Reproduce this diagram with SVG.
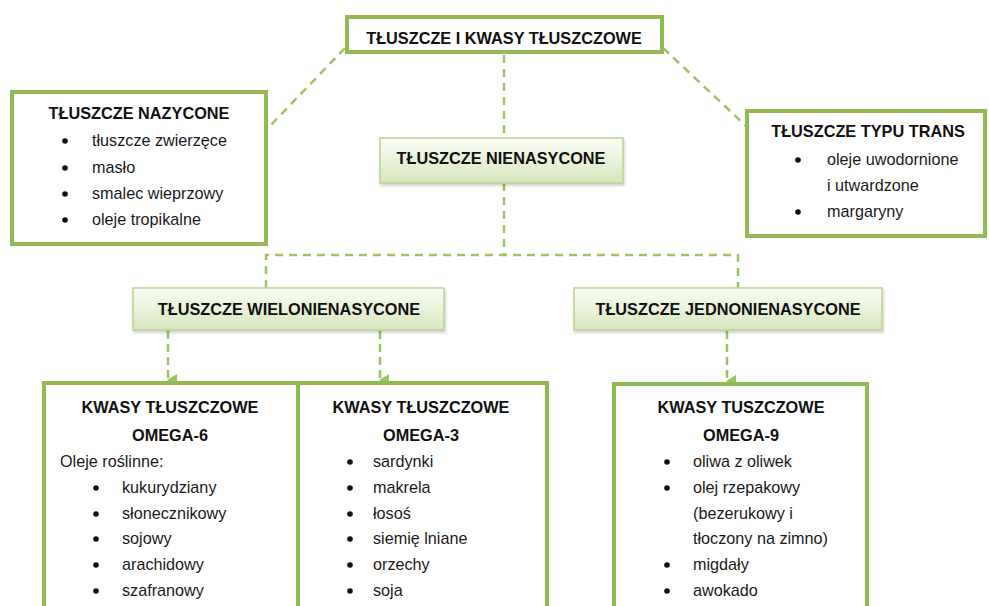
<svg xmlns="http://www.w3.org/2000/svg" width="989" height="606" viewBox="0 0 989 606">
<style>
.box{fill:#fff;stroke:#8fbb52;stroke-width:4}
.sub{fill:url(#g);stroke:#b9d48f;stroke-width:1.5}
.t{font-family:"Liberation Sans",Arial,sans-serif;font-weight:bold;font-size:16.3px;fill:#111;text-anchor:middle}
.b{font-family:"Liberation Sans",Arial,sans-serif;font-size:16.2px;fill:#1a1a1a}
.dot{fill:#111}
.c{fill:none;stroke:#9cc45f;stroke-width:2.5;stroke-dasharray:8,6}
</style>
<defs>
<linearGradient id="g" x1="0" y1="0" x2="0" y2="1">
<stop offset="0" stop-color="#fbfdf6"/>
<stop offset="1" stop-color="#d6e7bd"/>
</linearGradient>
<filter id="sh" x="-5%" y="-20%" width="110%" height="150%">
<feDropShadow dx="1" dy="2" stdDeviation="1.5" flood-color="#000" flood-opacity="0.2"/>
</filter>
<marker id="ar" markerWidth="12" markerHeight="10" refX="6" refY="9" orient="auto" markerUnits="userSpaceOnUse" viewBox="0 0 12 10">
<path d="M0,0 L12,0 L6,10 Z" fill="#9cc45f"/>
</marker>
</defs>
<g id="connectors">
<line class="c" x1="345" y1="48" x2="268" y2="128"/>
<line class="c" x1="663" y1="48" x2="746" y2="126"/>
<line class="c" x1="504" y1="55" x2="504" y2="138"/>
<polyline class="c" points="504,183 504,255"/>
<polyline class="c" points="266,288 266,255 738,255 738,288"/>
<line class="c" x1="168" y1="331" x2="168" y2="380" marker-end="url(#ar)" style="stroke-dasharray:8,5"/>
<line class="c" x1="380" y1="331" x2="380" y2="380" marker-end="url(#ar)" style="stroke-dasharray:8,5"/>
<line class="c" x1="727" y1="331" x2="727" y2="381" marker-end="url(#ar)" style="stroke-dasharray:8,5"/>
</g>
<g id="top">
<rect class="box" x="347" y="17" width="315" height="35"/>
<text class="t" x="504" y="44">TŁUSZCZE I KWASY TŁUSZCZOWE</text>
</g>
<g id="nasycone">
<rect class="box" x="12" y="92" width="254" height="152"/>
<text class="t" x="139" y="119">TŁUSZCZE NAZYCONE</text>
<circle class="dot" cx="65" cy="141" r="2.8"/><text class="b" x="92" y="146">tłuszcze zwierzęce</text>
<circle class="dot" cx="65" cy="168" r="2.8"/><text class="b" x="92" y="173">masło</text>
<circle class="dot" cx="65" cy="194" r="2.8"/><text class="b" x="92" y="199">smalec wieprzowy</text>
<circle class="dot" cx="65" cy="220" r="2.8"/><text class="b" x="92" y="225">oleje tropikalne</text>
</g>
<g id="trans">
<rect class="box" x="747" y="111" width="238" height="125"/>
<text class="t" x="868" y="137">TŁUSZCZE TYPU TRANS</text>
<circle class="dot" cx="798" cy="160" r="2.8"/><text class="b" x="827" y="165">oleje uwodornione</text>
<text class="b" x="827" y="191">i utwardzone</text>
<circle class="dot" cx="798" cy="212" r="2.8"/><text class="b" x="827" y="217">margaryny</text>
</g>
<g id="nienasycone">
<rect class="sub" x="380" y="138" width="243" height="45" filter="url(#sh)"/>
<text class="t" x="501" y="164">TŁUSZCZE NIENASYCONE</text>
</g>
<g id="wielo">
<rect class="sub" x="133" y="288" width="311" height="42" filter="url(#sh)"/>
<text class="t" x="289" y="315">TŁUSZCZE WIELONIENASYCONE</text>
</g>
<g id="jedno">
<rect class="sub" x="574" y="288" width="308" height="42" filter="url(#sh)"/>
<text class="t" x="728" y="315">TŁUSZCZE JEDNONIENASYCONE</text>
</g>
<g id="omega6">
<rect class="box" x="44" y="383" width="254" height="240"/>
<text class="t" x="170" y="413">KWASY TŁUSZCZOWE</text>
<text class="t" x="170" y="441">OMEGA-6</text>
<text class="b" x="60" y="467">Oleje roślinne:</text>
<circle class="dot" cx="96" cy="488" r="2.8"/><text class="b" x="122" y="493">kukurydziany</text>
<circle class="dot" cx="96" cy="514" r="2.8"/><text class="b" x="122" y="519">słonecznikowy</text>
<circle class="dot" cx="96" cy="539" r="2.8"/><text class="b" x="122" y="544">sojowy</text>
<circle class="dot" cx="96" cy="565" r="2.8"/><text class="b" x="122" y="570">arachidowy</text>
<circle class="dot" cx="96" cy="591" r="2.8"/><text class="b" x="122" y="596">szafranowy</text>
</g>
<g id="omega3">
<rect class="box" x="298" y="383" width="249" height="240"/>
<text class="t" x="421" y="413">KWASY TŁUSZCZOWE</text>
<text class="t" x="421" y="441">OMEGA-3</text>
<circle class="dot" cx="350" cy="462" r="2.8"/><text class="b" x="373" y="467">sardynki</text>
<circle class="dot" cx="350" cy="488" r="2.8"/><text class="b" x="373" y="493">makrela</text>
<circle class="dot" cx="350" cy="514" r="2.8"/><text class="b" x="373" y="519">łosoś</text>
<circle class="dot" cx="350" cy="539" r="2.8"/><text class="b" x="373" y="544">siemię lniane</text>
<circle class="dot" cx="350" cy="565" r="2.8"/><text class="b" x="373" y="570">orzechy</text>
<circle class="dot" cx="350" cy="591" r="2.8"/><text class="b" x="373" y="596">soja</text>
</g>
<g id="omega9">
<rect class="box" x="614" y="384" width="253" height="240"/>
<text class="t" x="741" y="413">KWASY TUSZCZOWE</text>
<text class="t" x="741" y="441">OMEGA-9</text>
<circle class="dot" cx="667" cy="462" r="2.8"/><text class="b" x="693" y="467">oliwa z oliwek</text>
<circle class="dot" cx="667" cy="488" r="2.8"/><text class="b" x="693" y="493">olej rzepakowy</text>
<text class="b" x="693" y="519">(bezerukowy i</text>
<text class="b" x="693" y="544">tłoczony na zimno)</text>
<circle class="dot" cx="667" cy="565" r="2.8"/><text class="b" x="693" y="570">migdały</text>
<circle class="dot" cx="667" cy="591" r="2.8"/><text class="b" x="693" y="596">awokado</text>
</g>
</svg>
